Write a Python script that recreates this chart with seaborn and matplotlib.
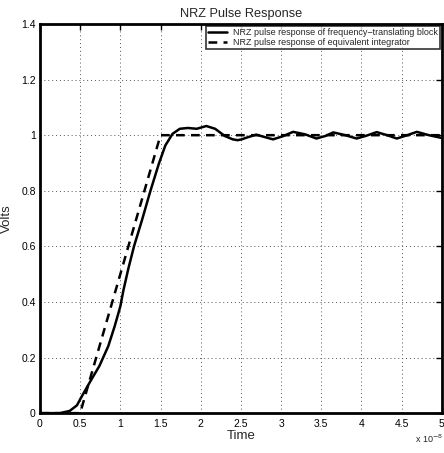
import matplotlib

matplotlib.use("Agg")
import matplotlib.pyplot as plt
import pandas as pd
import seaborn as sns
from matplotlib.ticker import FormatStrFormatter, MultipleLocator

# time in units of 1e-8 s
block_time = [0.0, 0.25, 0.37, 0.46, 0.51, 0.62, 0.74, 0.85, 0.93, 1.0, 1.04,
              1.1, 1.17, 1.27, 1.375, 1.48, 1.56, 1.65, 1.74, 1.84, 1.95, 2.07,
              2.18, 2.3, 2.4, 2.46, 2.51, 2.58, 2.69, 2.8, 2.9, 3.02, 3.15, 3.3,
              3.44, 3.55, 3.65, 3.8, 3.94, 4.06, 4.19, 4.32, 4.44, 4.56, 4.69,
              4.84, 5.0]
block_volts = [0.0, 0.0, 0.008, 0.028, 0.055, 0.111, 0.17, 0.241, 0.313, 0.384,
               0.444, 0.52, 0.6, 0.695, 0.8, 0.898, 0.963, 1.005, 1.023, 1.026,
               1.023, 1.033, 1.023, 0.997, 0.985, 0.982, 0.985, 0.992, 1.002,
               0.993, 0.985, 0.996, 1.012, 1.003, 0.988, 0.997, 1.01, 1.0,
               0.988, 0.998, 1.011, 1.0, 0.988, 0.999, 1.012, 1.0, 0.99]

integ_time = [0.0, 0.5, 1.5, 5.0]
integ_volts = [0.0, 0.0, 1.0, 1.0]

label_block = "NRZ pulse response of frequency\u2212translating block"
label_integ = "NRZ pulse response of equivalent integrator"

df_block = pd.DataFrame({"time": block_time, "volts": block_volts})
df_integ = pd.DataFrame({"time": integ_time, "volts": integ_volts})

sns.set_theme(style="white")
plt.rcParams["font.family"] = ["Liberation Sans", "DejaVu Sans"]
plt.rcParams["xtick.direction"] = "in"
plt.rcParams["ytick.direction"] = "in"

fig = plt.figure(figsize=(4.44, 4.53), dpi=100)
ax = fig.add_axes([0.090, 0.088, 0.905, 0.859])

sns.lineplot(data=df_block, x="time", y="volts", ax=ax, color="black",
             linewidth=1.8, label=label_block)
sns.lineplot(data=df_integ, x="time", y="volts", ax=ax, color="black",
             linewidth=1.8, linestyle=(0, (3.5, 2.5)), label=label_integ)

ax.set_xlim(0, 5)
ax.set_ylim(0, 1.4)
ax.xaxis.set_major_locator(MultipleLocator(0.5))
ax.yaxis.set_major_locator(MultipleLocator(0.2))
ax.xaxis.set_major_formatter(FormatStrFormatter("%g"))
ax.yaxis.set_major_formatter(FormatStrFormatter("%g"))
ax.tick_params(axis="both", labelsize=7.5, length=4, width=1.0,
               colors="black", pad=3, top=True, right=True)
ax.tick_params(axis="x", pad=4)
ax.grid(True, linestyle=(0, (1, 3)), color="#555555", linewidth=0.7)
for side in ax.spines.values():
    side.set_linewidth(2.0)
    side.set_color("black")

ax.set_title("NRZ Pulse Response", fontsize=9.2, pad=5)
ax.set_xlabel("Time", fontsize=9.5, labelpad=1)
ax.set_ylabel("Volts", fontsize=9.5, labelpad=6)
fig.text(0.997, 0.018, "x 10$^{-8}$", fontsize=6.5, ha="right", va="bottom")

leg = ax.legend(loc="upper right", fontsize=6.5, frameon=True, fancybox=False,
                handlelength=2.2, borderaxespad=0.25, borderpad=0.2,
                labelspacing=0.1, handletextpad=0.6)
leg.get_frame().set_edgecolor("black")
leg.get_frame().set_linewidth(1.2)

fig.savefig("out.png", dpi=100)
